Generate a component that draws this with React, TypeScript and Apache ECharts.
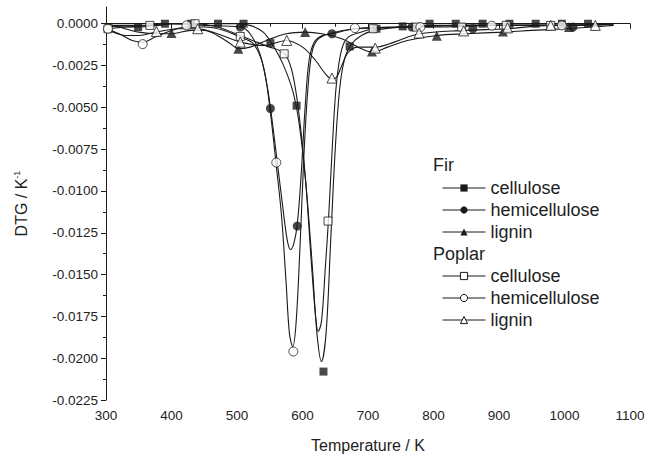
import React, { useEffect, useRef } from 'react';
import * as echarts from 'echarts';

const FONT = "'Liberation Sans', Arial, Helvetica, sans-serif";
const INK = '#1a1a1a';
const TXT = '#1e1e1e';

const yMajorTicks = [0, -0.0025, -0.005, -0.0075, -0.01, -0.0125, -0.015, -0.0175, -0.02, -0.0225];
const yMinorTicks = [-0.00125, -0.00375, -0.00625, -0.00875, -0.01125, -0.01375, -0.01625, -0.01875, -0.02125];

// fitted curves (Temperature K, DTG)
const firCelluloseFit: [number, number][] = [
  [300, -0.0001], [330, -0.0002], [350, -0.0002], [380, -0.0001], [400, 0], [450, 0], [500, 0],
  [520, -0.0001], [540, -0.0005], [555, -0.0013], [570, -0.0024], [585, -0.004], [595, -0.006],
  [605, -0.0095], [615, -0.0145], [622, -0.0185], [629, -0.0202], [636, -0.0185], [643, -0.013],
  [650, -0.0075], [657, -0.0038], [665, -0.002], [675, -0.0012], [690, -0.0007], [710, -0.0004],
  [750, -0.0002], [800, -0.0001], [900, -0.0001], [1000, -0.0001], [1075, 0],
];
const firHemiFit: [number, number][] = [
  [300, -0.0001], [350, -0.0001], [400, 0], [450, -0.0001], [505, -0.0002], [520, -0.0006],
  [535, -0.0018], [545, -0.0035], [551, -0.005], [560, -0.0078], [570, -0.011], [577, -0.013],
  [582, -0.0135], [587, -0.0131], [592, -0.012], [598, -0.009], [604, -0.005], [610, -0.0022],
  [618, -0.0011], [630, -0.0007], [645, -0.0006], [680, -0.0003], [750, -0.0002], [850, -0.0001],
  [1000, -0.0001], [1075, 0],
];
const firLigninFit: [number, number][] = [
  [300, 0], [320, -0.0002], [350, -0.0005], [380, -0.0006], [400, -0.0006], [430, -0.0004],
  [450, -0.0004], [470, -0.0007], [490, -0.0012], [502, -0.0015], [520, -0.0014], [545, -0.001],
  [575, -0.0006], [604, -0.0005], [630, -0.0006], [660, -0.0009], [685, -0.0014], [706, -0.0017],
  [730, -0.0014], [760, -0.001], [805, -0.0007], [850, -0.0006], [906, -0.0005], [950, -0.0004],
  [1000, -0.0003], [1040, -0.0002], [1075, -0.0001],
];
const poplarCelluloseFit: [number, number][] = [
  [300, -0.0003], [330, -0.0002], [367, -0.0001], [400, 0], [436, 0], [470, -0.0002], [505, -0.0007],
  [530, -0.0011], [550, -0.0014], [565, -0.0016], [575, -0.0019], [585, -0.003], [595, -0.0055],
  [605, -0.0095], [613, -0.014], [620, -0.0175], [624, -0.0184], [629, -0.0178], [635, -0.0145],
  [640, -0.0115], [646, -0.007], [652, -0.0035], [660, -0.0015], [670, -0.0008], [690, -0.0005],
  [708, -0.0003], [750, -0.0002], [800, -0.0002], [900, -0.0001], [1000, -0.0001], [1075, 0],
];
const poplarHemiFit: [number, number][] = [
  [300, -0.0003], [320, -0.0006], [340, -0.001], [356, -0.0011], [375, -0.0008], [400, -0.0004],
  [423, -0.0002], [450, -0.0002], [480, -0.0004], [505, -0.0008], [525, -0.0012], [540, -0.0025],
  [550, -0.005], [560, -0.0085], [568, -0.0115], [575, -0.0155], [580, -0.0185], [585, -0.0193],
  [590, -0.018], [596, -0.0135], [602, -0.008], [608, -0.004], [614, -0.0018], [622, -0.001],
  [640, -0.0006], [680, -0.0003], [750, -0.0002], [850, -0.0001], [1000, -0.0001], [1075, 0],
];
const poplarLigninFit: [number, number][] = [
  [300, -0.0003], [330, -0.0007], [350, -0.0007], [377, -0.0005], [410, -0.0003], [440, -0.0003],
  [470, -0.0006], [505, -0.0011], [540, -0.0013], [576, -0.001], [600, -0.0014], [620, -0.0022],
  [635, -0.003], [645, -0.0033], [652, -0.0032], [660, -0.0025], [670, -0.0017], [685, -0.0014],
  [711, -0.0014], [740, -0.0011], [778, -0.0006], [846, -0.0004], [913, -0.0003], [979, -0.0001],
  [1047, -0.0001], [1075, 0],
];

// experimental points (markers)
const firCellulosePts: [number, number][] = [
  [349, -0.0002], [390, 0], [430, 0], [471, 0], [510, 0], [551, -0.00116], [591, -0.0049],
  [632, -0.0208], [672, -0.00136], [713, -0.0003], [753, -0.00016], [794, 0], [834, 0], [875, 0],
  [916, 0], [956, 0], [996, 0], [1036, 0],
];
const firHemiPts: [number, number][] = [
  [505, -0.0002], [551, -0.00507], [592, -0.0121], [645, -0.0006], [767, -0.0002], [860, -0.0003],
  [1013, -0.0002],
];
const firLigninPts: [number, number][] = [
  [400, -0.00056], [502, -0.0015], [604, -0.0005], [706, -0.00166], [805, -0.00072], [906, -0.00046],
  [1007, -0.0002],
];
const poplarCellulosePts: [number, number][] = [
  [303, -0.0003], [367, -0.0001], [436, 0], [505, -0.00076], [572, -0.0018], [639, -0.0118],
  [708, -0.0003], [774, -0.0002], [843, -0.0002], [911, -0.0001], [979, -0.0001],
];
const poplarHemiPts: [number, number][] = [
  [303, -0.0003], [356, -0.00122], [423, -0.0001], [560, -0.0083], [586, -0.0196], [680, -0.00026],
  [780, -0.0002], [889, -0.00012], [996, -0.0001],
];
const poplarLigninPts: [number, number][] = [
  [377, -0.00046], [440, -0.0003], [505, -0.0011], [576, -0.001], [645, -0.00325], [711, -0.00146],
  [778, -0.00056], [846, -0.00043], [913, -0.00025], [979, -0.0001], [1047, -0.0001],
];

const firNames = ['Fir cellulose', 'Fir hemicellulose', 'Fir lignin'];
const poplarNames = ['Poplar cellulose', 'Poplar hemicellulose', 'Poplar lignin'];

export default function App() {
  const ref = useRef<HTMLDivElement>(null);
  useEffect(() => {
    if (!ref.current) return;
    const chart = echarts.init(ref.current, undefined, { renderer: 'svg' });

    const defs = [
      { name: firNames[0], fit: firCelluloseFit, pts: firCellulosePts, symbol: 'rect', size: 8, hollow: false },
      { name: firNames[1], fit: firHemiFit, pts: firHemiPts, symbol: 'circle', size: 9, hollow: false },
      { name: firNames[2], fit: firLigninFit, pts: firLigninPts, symbol: 'triangle', size: 10, hollow: false },
      { name: poplarNames[0], fit: poplarCelluloseFit, pts: poplarCellulosePts, symbol: 'rect', size: 8, hollow: true },
      { name: poplarNames[1], fit: poplarHemiFit, pts: poplarHemiPts, symbol: 'circle', size: 9, hollow: true },
      { name: poplarNames[2], fit: poplarLigninFit, pts: poplarLigninPts, symbol: 'triangle', size: 10, hollow: true },
    ];

    const itemStyleFor = (hollow: boolean) =>
      hollow ? { color: '#fff', borderColor: INK, borderWidth: 1 } : { color: INK, borderColor: INK, borderWidth: 0 };

    const series: any[] = [];
    defs.forEach((d) => {
      series.push({
        type: 'line',
        name: d.name,
        data: d.fit,
        smooth: 0.35,
        showSymbol: false,
        symbol: d.symbol,
        symbolSize: d.size,
        lineStyle: { color: INK, width: 1.1 },
        itemStyle: itemStyleFor(d.hollow),
        silent: true,
        z: 2,
      });
    });
    defs.forEach((d) => {
      series.push({
        type: 'scatter',
        name: d.name + ' data',
        data: d.pts,
        symbol: d.symbol,
        symbolSize: d.size,
        itemStyle: itemStyleFor(d.hollow),
        silent: true,
        z: 3,
      });
    });

    const legendBase = {
      orient: 'vertical',
      left: 442,
      padding: 0,
      itemWidth: 43,
      itemHeight: 9,
      itemGap: 2,
      selectedMode: false,
      textStyle: { fontSize: 18, color: TXT, fontFamily: FONT, lineHeight: 20 },
      lineStyle: { color: INK, width: 1 },
    };

    chart.setOption({
      animation: false,
      backgroundColor: '#fff',
      textStyle: { fontFamily: FONT },
      grid: { left: 106, right: 20, top: 7, bottom: 56, containLabel: false, outerBoundsMode: 'none' },
      xAxis: {
        type: 'value',
        min: 300,
        max: 1100,
        interval: 100,
        name: 'Temperature / K',
        nameLocation: 'middle',
        nameGap: 37,
        nameTextStyle: { fontSize: 16, color: TXT, fontFamily: FONT },
        axisLine: { show: true, lineStyle: { color: INK, width: 1 } },
        axisTick: { show: true, inside: false, length: 5, lineStyle: { color: INK } },
        minorTick: { show: true, splitNumber: 2, length: 3, lineStyle: { color: INK } },
        axisLabel: {
          fontSize: 13.5,
          color: TXT,
          margin: 8,
          fontFamily: FONT,
          formatter: (v: number) => String(Math.round(v)),
        },
        splitLine: { show: false },
      },
      yAxis: [
        {
          type: 'value',
          min: -0.0225,
          max: 0.001,
          name: 'DTG / K{sup|-1}',
          nameLocation: 'middle',
          nameGap: 76,
          nameTextStyle: {
            fontSize: 16,
            color: TXT,
            fontFamily: FONT,
            rich: { sup: { fontSize: 9, color: TXT, padding: [0, 0, 9, 0], fontFamily: FONT } },
          },
          axisLine: { show: true, onZero: false, lineStyle: { color: INK, width: 1 } },
          axisTick: { show: true, length: 5, customValues: yMajorTicks, lineStyle: { color: INK } },
          axisLabel: {
            customValues: yMajorTicks,
            fontSize: 13.5,
            color: TXT,
            margin: 8,
            fontFamily: FONT,
            formatter: (v: number) => (Math.abs(v) < 1e-9 ? '0.0000' : v.toFixed(4)),
          },
          splitLine: { show: false },
        },
        {
          type: 'value',
          min: -0.0225,
          max: 0.001,
          position: 'left',
          axisLine: { show: false },
          axisTick: { show: true, length: 3, customValues: yMinorTicks, lineStyle: { color: INK } },
          axisLabel: { show: false },
          splitLine: { show: false },
        },
      ],
      legend: [
        {
          ...legendBase,
          top: 178,
          data: firNames,
          formatter: (n: string) => n.replace('Fir ', ''),
          itemStyle: { color: INK, borderWidth: 0 },
        },
        {
          ...legendBase,
          top: 266,
          data: poplarNames,
          formatter: (n: string) => n.replace('Poplar ', ''),
          itemStyle: { color: '#fff', borderColor: INK, borderWidth: 1 },
        },
      ],
      graphic: [
        { type: 'text', left: 433, top: 156, style: { text: 'Fir', fontSize: 18, fill: TXT, fontFamily: FONT } },
        { type: 'text', left: 433, top: 245, style: { text: 'Poplar', fontSize: 18, fill: TXT, fontFamily: FONT } },
      ],
      series,
    });

    return () => chart.dispose();
  }, []);

  return <div ref={ref} style={{ position: 'absolute', left: 0, top: 0, width: 650, height: 456 }} />;
}
